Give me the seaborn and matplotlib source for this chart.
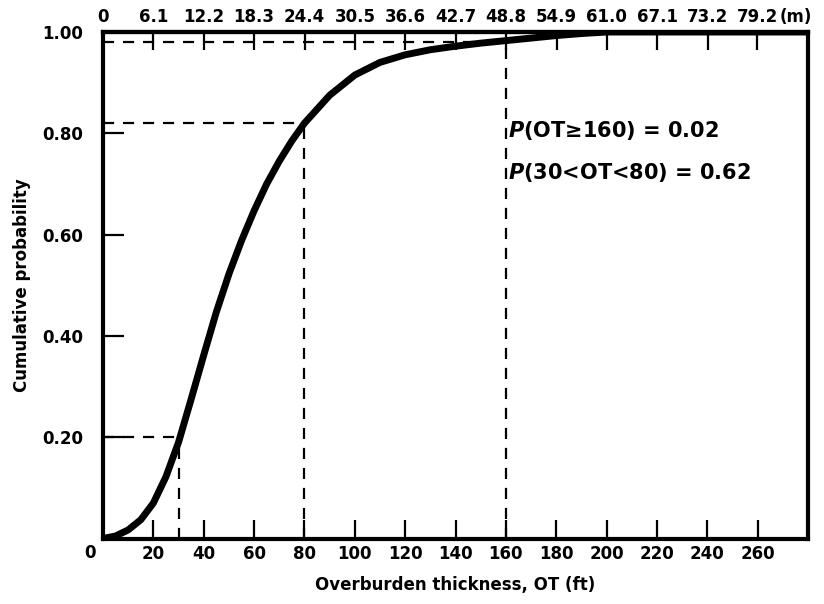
import matplotlib
matplotlib.use("Agg")
import matplotlib.pyplot as plt
import seaborn as sns
import pandas as pd

# ---- data ----
thickness_ft = [0, 5, 10, 15, 20, 25, 30, 35, 40, 45, 50, 55, 60, 65, 70,
                75, 80, 90, 100, 110, 120, 130, 140, 150, 160, 170, 180,
                190, 200, 280]
cum_prob = [0.0, 0.005, 0.017, 0.037, 0.07, 0.122, 0.19, 0.275, 0.362,
            0.447, 0.522, 0.588, 0.647, 0.70, 0.745, 0.785, 0.82, 0.875,
            0.915, 0.94, 0.955, 0.965, 0.972, 0.978, 0.983, 0.988, 0.993,
            0.997, 1.0, 1.0]

ref_x = [30, 80, 160]
ref_p = [0.20, 0.82, 0.98]

x_ticks = [0, 20, 40, 60, 80, 100, 120, 140, 160, 180, 200, 220, 240, 260]
x_ticklabels = ["", "20", "40", "60", "80", "100", "120", "140", "160",
                "180", "200", "220", "240", "260"]
y_ticks = [0.2, 0.4, 0.6, 0.8, 1.0]
y_ticklabels = ["0.20", "0.40", "0.60", "0.80", "1.00"]
m_ticks = [0, 6.1, 12.2, 18.3, 24.4, 30.5, 36.6, 42.7, 48.8, 54.9, 61.0,
           67.1, 73.2, 79.2]
m_ticklabels = ["0", "6.1", "12.2", "18.3", "24.4", "30.5", "36.6", "42.7",
                "48.8", "54.9", "61.0", "67.1", "73.2", "79.2"]
annotations = ["$P$(OT\u2265160) = 0.02", "$P$(30<OT<80) = 0.62"]

sns.set_style("ticks")
plt.rcParams["font.family"] = ["DejaVu Sans"]
plt.rcParams["font.weight"] = "bold"
plt.rcParams["text.color"] = "black"
plt.rcParams["axes.labelcolor"] = "black"
plt.rcParams["xtick.color"] = "black"
plt.rcParams["ytick.color"] = "black"
plt.rcParams["axes.edgecolor"] = "black"
plt.rcParams["mathtext.fontset"] = "custom"
plt.rcParams["mathtext.it"] = "DejaVu Sans:italic:bold"
plt.rcParams["mathtext.rm"] = "DejaVu Sans:bold"

fig = plt.figure(figsize=(8.24, 6.04), dpi=100)
ax = fig.add_axes([0.125, 0.1084, 0.8556, 0.8386])

df = pd.DataFrame({"ft": thickness_ft, "p": cum_prob})
sns.lineplot(data=df, x="ft", y="p", ax=ax, color="black", linewidth=5.0,
             solid_capstyle="round", solid_joinstyle="round", zorder=5)

dash = (0, (5, 4))
for xv, pv in zip(ref_x, ref_p):
    ax.plot([0, xv], [pv, pv], color="black", lw=1.6, linestyle=dash, zorder=3)
    ax.plot([xv, xv], [0, pv], color="black", lw=1.6, linestyle=dash, zorder=3)

ax.set_xlim(0, 280)
ax.set_ylim(0, 1.0)

ax.set_xticks(x_ticks, x_ticklabels)
ax.set_yticks(y_ticks, y_ticklabels)
ax.tick_params(axis="x", direction="in", length=14, width=1.6, pad=5,
               labelsize=12, colors="black")
ax.tick_params(axis="y", direction="in", length=15, width=1.6, pad=14,
               labelsize=12, colors="black")
for s in ax.spines.values():
    s.set_linewidth(3.0)
    s.set_color("black")
    s.set_visible(True)

ax.text(-0.018, -0.028, "0", transform=ax.transAxes, ha="center",
        va="center", fontsize=12, fontweight="bold", color="black")

sec = ax.secondary_xaxis("top", functions=(lambda f: f * 0.3048,
                                           lambda m: m / 0.3048))
sec.set_xticks(m_ticks, m_ticklabels)
sec.tick_params(axis="x", direction="in", length=13, width=1.6, pad=4,
                labelsize=12, colors="black")
sec.spines["top"].set_linewidth(3.0)
sec.spines["top"].set_color("black")
ax.text(275, 1.012, "(m)", ha="center", va="bottom", fontsize=12,
        fontweight="bold", color="black")

ax.set_xlabel("Overburden thickness, OT (ft)", fontsize=12,
              fontweight="bold", labelpad=9, color="black")
ax.set_ylabel("Cumulative probability", fontsize=12, fontweight="bold",
              labelpad=8, color="black")

ax.text(161, 0.805, annotations[0], fontsize=15, fontweight="bold",
        va="center", ha="left", color="black")
ax.text(161, 0.722, annotations[1], fontsize=15, fontweight="bold",
        va="center", ha="left", color="black")

fig.savefig("out.png", dpi=100)
